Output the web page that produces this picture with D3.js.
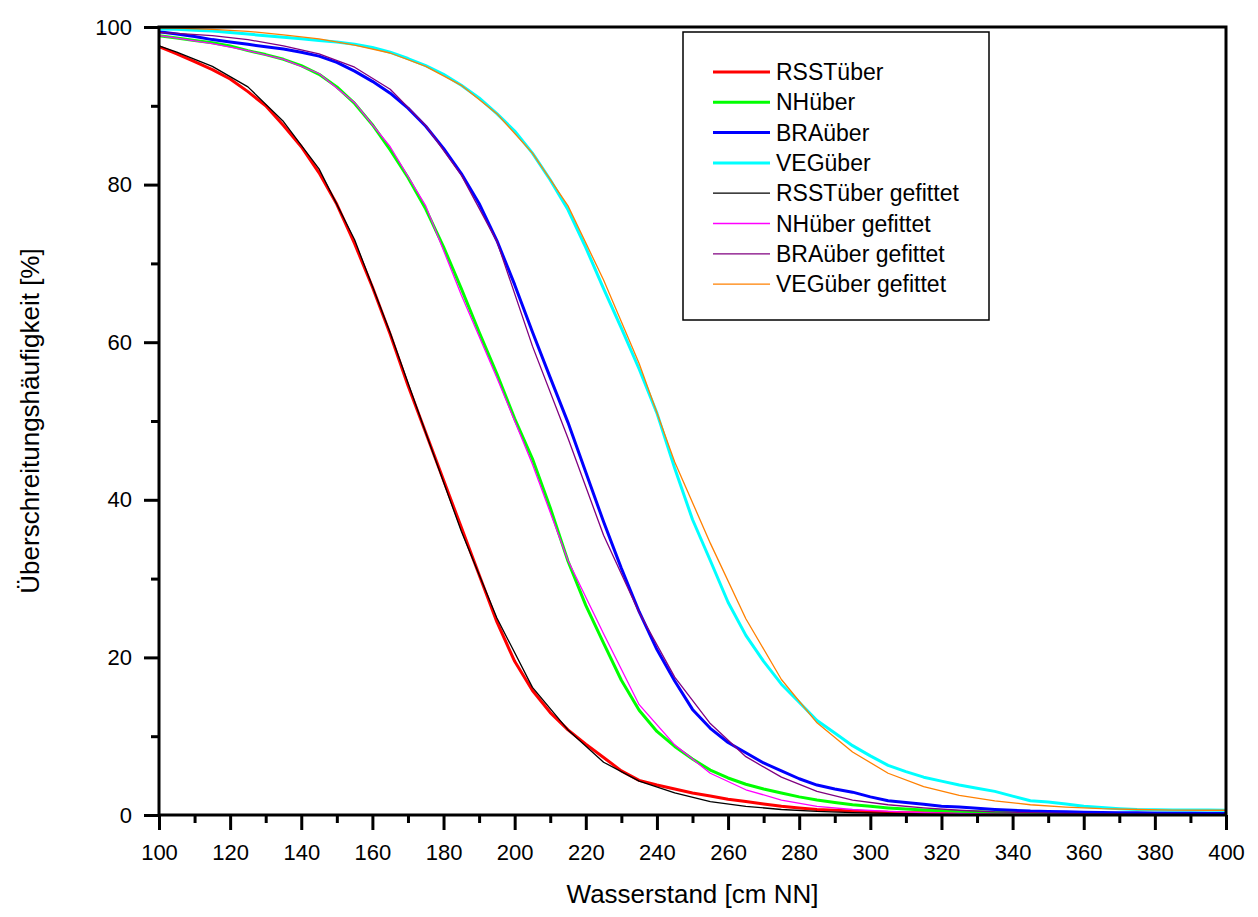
<!DOCTYPE html>
<html>
<head>
<meta charset="utf-8">
<script src="https://cdn.jsdelivr.net/npm/d3@7"></script>
<style>
  body { margin: 0; background: #fff; }
  svg text { font-family: "Liberation Sans", Arial, sans-serif; fill: #000; }
</style>
</head>
<body>
<script>
// Wasserstand (x) for the measured series, 5 cm steps
const xMeas = [100,105,110,115,120,125,130,135,140,145,150,155,160,165,170,175,180,185,190,195,
  200,205,210,215,220,225,230,235,240,245,250,255,260,265,270,275,280,285,290,295,
  300,305,310,315,320,325,330,335,340,345,350,355,360,365,370,375,380,385,390,395,400];
// x positions of the fitted curve vertices
const xFit = [100,105,115,125,135,145,155,165,175,185,195,205,215,225,235,245,255,265,275,285,
  295,305,315,325,335,345,355,365,375,385,395,400];

// measured exceedance frequencies [%]
const rsst = [97.5,96.6,95.6,94.6,93.4,91.8,90.0,87.5,84.8,81.5,77.5,72.5,67.0,61.0,54.5,48.5,42.5,36.5,30.5,24.5,
  19.5,15.8,13.0,10.8,9.0,7.3,5.6,4.4,3.8,3.3,2.8,2.4,2.0,1.7,1.4,1.1,0.9,0.7,0.6,0.5,
  0.4,0.35,0.3,0.27,0.24,0.21,0.19,0.17,0.15,0.13,0.12,0.11,0.1,0.09,0.08,0.07,0.06,0.06,0.05,0.05,0.05];
const nh = [98.9,98.6,98.3,98.0,97.6,97.0,96.5,95.9,95.1,94.0,92.4,90.3,87.6,84.4,80.9,76.9,72.1,66.8,61.3,56.0,
  50.3,45.2,39.0,32.2,26.6,21.8,17.1,13.3,10.6,8.7,7.1,5.7,4.7,3.9,3.3,2.8,2.3,1.9,1.6,1.3,
  1.1,0.9,0.75,0.65,0.55,0.45,0.4,0.35,0.3,0.27,0.24,0.21,0.19,0.17,0.15,0.13,0.12,0.11,0.1,0.1,0.1];
const bra = [99.4,99.1,98.8,98.4,98.1,97.8,97.5,97.2,96.8,96.3,95.5,94.4,93.1,91.6,89.7,87.4,84.6,81.4,77.6,72.9,
  67.3,61.3,55.5,49.8,43.5,37.2,31.3,25.8,21.0,17.0,13.4,11.0,9.2,7.9,6.6,5.6,4.6,3.8,3.3,2.9,
  2.3,1.8,1.6,1.35,1.1,1.0,0.85,0.7,0.6,0.5,0.45,0.4,0.35,0.32,0.3,0.28,0.26,0.25,0.24,0.23,0.22];
const veg = [99.75,99.7,99.6,99.5,99.3,99.1,98.9,98.7,98.5,98.3,98.1,97.8,97.4,96.8,96.0,95.1,94.0,92.6,91.0,89.0,
  86.8,84.0,80.6,76.8,72.0,66.8,61.8,56.6,51.0,44.0,37.5,32.3,27.0,22.8,19.5,16.6,14.3,12.0,10.4,8.8,
  7.5,6.3,5.5,4.8,4.3,3.8,3.4,3.0,2.4,1.8,1.65,1.4,1.1,0.95,0.8,0.7,0.68,0.65,0.63,0.62,0.6];

// fitted curves [%]
const rsstFit = [97.6,96.8,95.0,92.4,88.0,82.0,73.0,61.2,48.5,36.0,25.0,16.2,10.8,6.7,4.3,2.8,1.7,1.1,0.7,0.45,
  0.3,0.2,0.12,0.08,0.05,0.03,0.02,0.02,0.01,0.01,0.01,0.01];
const nhFit = [98.9,98.6,97.9,97.0,95.9,94.1,90.4,84.8,77.3,66.0,55.5,44.5,32.3,23.0,14.0,8.9,5.3,3.2,1.9,1.1,
  0.7,0.45,0.3,0.2,0.12,0.08,0.05,0.03,0.02,0.02,0.01,0.01];
const braFit = [99.3,99.2,98.9,98.4,97.6,96.6,94.9,92.1,87.5,81.2,72.8,59.5,47.8,35.5,25.7,17.5,11.6,7.4,4.8,3.0,
  1.9,1.3,0.9,0.6,0.4,0.3,0.2,0.15,0.1,0.08,0.06,0.05];
const vegFit = [99.9,99.85,99.7,99.45,99.0,98.5,97.7,96.7,95.0,92.6,89.0,84.0,77.3,67.9,57.3,44.8,34.5,24.9,17.2,11.7,
  8.0,5.3,3.6,2.5,1.8,1.3,1.0,0.8,0.7,0.62,0.6,0.6];

const seriesNames = ['RSSTüber','NHüber','BRAüber','VEGüber',
  'RSSTüber gefittet','NHüber gefittet','BRAüber gefittet','VEGüber gefittet'];
const seriesColors = ['#ff0000','#00ff00','#0000ff','#00ffff','#000000','#ff00ff','#800080','#ff8000'];

const series = [
  {name: seriesNames[0], xs: xMeas, ys: rsst, color: seriesColors[0], w: 3},
  {name: seriesNames[1], xs: xMeas, ys: nh, color: seriesColors[1], w: 3},
  {name: seriesNames[2], xs: xMeas, ys: bra, color: seriesColors[2], w: 3},
  {name: seriesNames[3], xs: xMeas, ys: veg, color: seriesColors[3], w: 3},
  {name: seriesNames[4], xs: xFit, ys: rsstFit, color: seriesColors[4], w: 1.3},
  {name: seriesNames[5], xs: xFit, ys: nhFit, color: seriesColors[5], w: 1.3},
  {name: seriesNames[6], xs: xFit, ys: braFit, color: seriesColors[6], w: 1.3},
  {name: seriesNames[7], xs: xFit, ys: vegFit, color: seriesColors[7], w: 1.3}
];

const margin = {top: 27, left: 159, right: 32, bottom: 102};
const W = 1258, H = 917;
const width = W - margin.left - margin.right;
const height = H - margin.top - margin.bottom;

const svg = d3.select('body').append('svg')
  .attr('width', W)
  .attr('height', H);

const g = svg.append('g')
  .attr('transform', `translate(${margin.left},${margin.top})`);

const xscale = d3.scaleLinear().domain([100, 400]).range([0, width]);
const yscale = d3.scaleLinear().domain([0, 100]).range([height, 0]);

// curves
const line = d3.line()
  .x((d) => xscale(d[0]))
  .y((d) => yscale(d[1]));

g.selectAll('path.curve').data(series).join('path')
  .attr('class', 'curve')
  .attr('fill', 'none')
  .attr('stroke', (d) => d.color)
  .attr('stroke-width', (d) => d.w)
  .attr('stroke-linejoin', 'round')
  .attr('d', (d) => line(d.xs.map((x, i) => [x, d.ys[i]])));

// minor ticks
const xMinor = d3.axisBottom(xscale).tickValues(d3.range(110, 400, 20)).tickSize(8).tickFormat('');
const yMinor = d3.axisLeft(yscale).tickValues([10, 30, 50, 70, 90]).tickSize(8).tickFormat('');
// major ticks
const xMajor = d3.axisBottom(xscale).tickValues(d3.range(100, 401, 20)).tickSize(15).tickPadding(14);
const yMajor = d3.axisLeft(yscale).tickValues([0, 20, 40, 60, 80, 100]).tickSize(15).tickPadding(12);

[[xMinor, 'x'], [xMajor, 'x'], [yMinor, 'y'], [yMajor, 'y']].forEach(([ax, k]) => {
  const a = g.append('g')
    .attr('transform', k === 'x' ? `translate(0,${height})` : null)
    .call(ax);
  a.select('.domain').remove();
  a.selectAll('line').attr('stroke', '#000').attr('stroke-width', 3);
  a.selectAll('text').style('font-size', '22px').attr('fill', '#000');
});

// frame
g.append('rect')
  .attr('width', width)
  .attr('height', height)
  .attr('fill', 'none')
  .attr('stroke', '#000')
  .attr('stroke-width', 3);

// axis titles
svg.append('text')
  .attr('x', margin.left + width / 2)
  .attr('y', 903)
  .attr('text-anchor', 'middle')
  .style('font-size', '26px')
  .text('Wasserstand [cm NN]');

svg.append('text')
  .attr('transform', `translate(39,${margin.top + height / 2}) rotate(-90)`)
  .attr('text-anchor', 'middle')
  .style('font-size', '26px')
  .text('Überschreitungshäufigkeit [%]');

// legend
const leg = svg.append('g').attr('transform', 'translate(683,32)');
leg.append('rect')
  .attr('width', 306)
  .attr('height', 288)
  .attr('fill', '#fff')
  .attr('stroke', '#000')
  .attr('stroke-width', 1.5);

const item = leg.selectAll('g.item').data(series).join('g')
  .attr('class', 'item')
  .attr('transform', (d, i) => `translate(0,${40 + i * 30.3})`);
item.append('line')
  .attr('x1', 30).attr('x2', 87)
  .attr('stroke', (d) => d.color)
  .attr('stroke-width', (d) => d.w);
item.append('text')
  .attr('x', 93)
  .attr('y', 8)
  .style('font-size', '23px')
  .text((d) => d.name);
</script>
</body>
</html>
